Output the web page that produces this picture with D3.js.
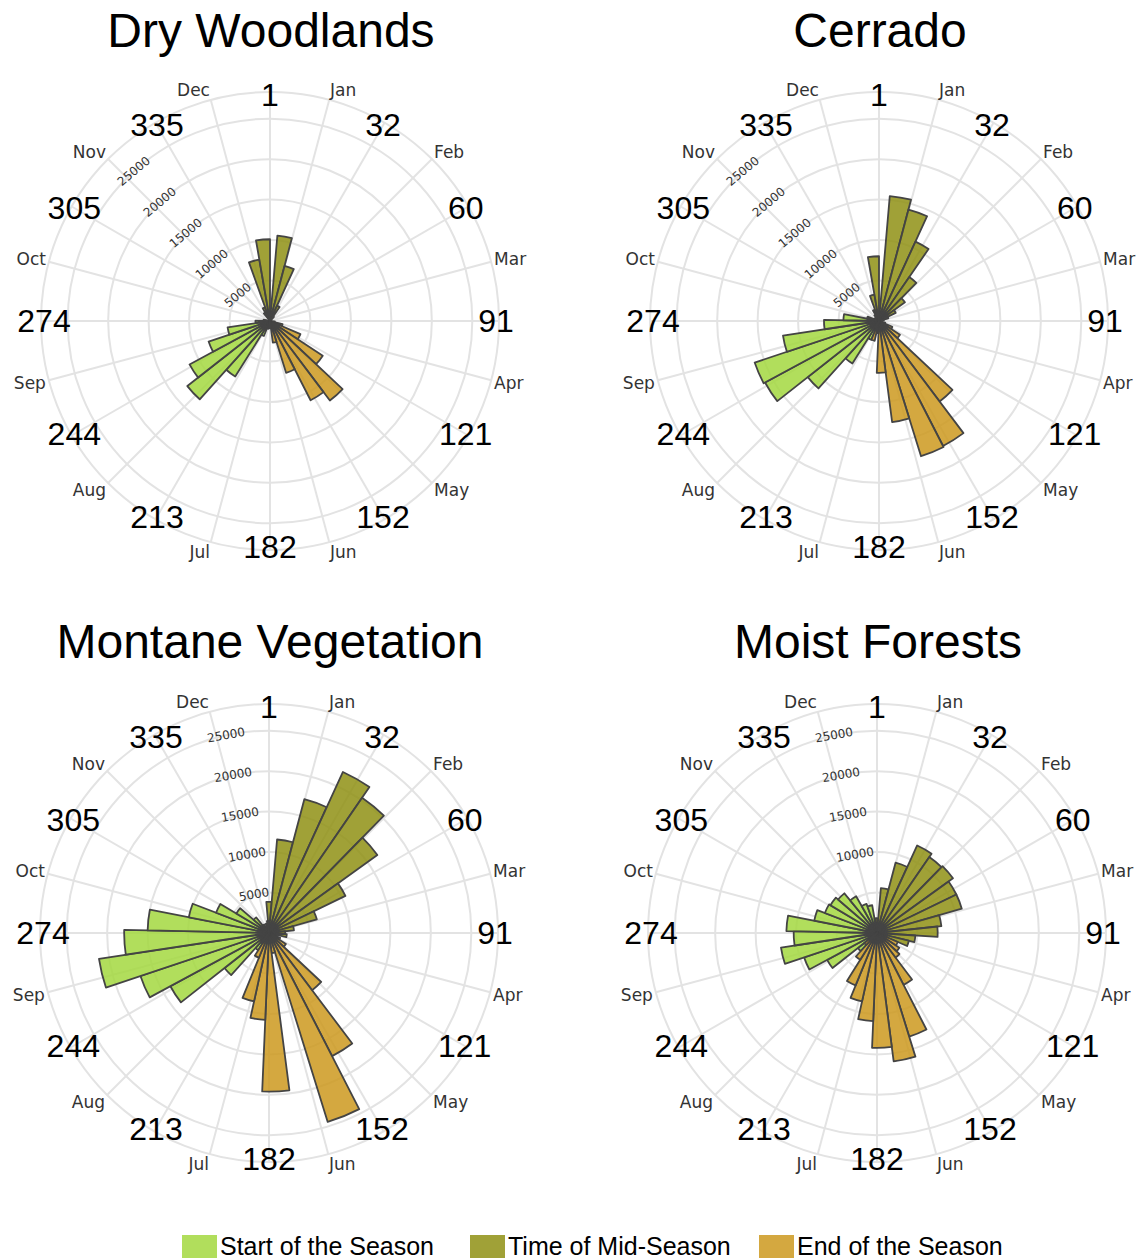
<!DOCTYPE html>
<html>
<head>
<meta charset="utf-8">
<script src="https://cdn.jsdelivr.net/npm/d3@7"></script>
<style>
body { margin: 0; background: #fff; }
</style>
</head>
<body>
<script>
// 10-day bins, centre day of each bin
var binDays = [0, 10, 20, 30, 40, 50, 60, 70, 80, 90, 100, 110, 120, 130, 140, 150, 160, 170, 180, 190,
               200, 210, 220, 230, 240, 250, 260, 270, 280, 290, 300, 310, 320, 330, 340, 350, 360];

var titles = ["Dry Woodlands", "Cerrado", "Montane Vegetation", "Moist Forests"];
var seriesNames = ["Start of the Season", "Time of Mid-Season", "End of the Season"];

var dryStart = [0,0,0,0,0,0,0,0,0,0, 0,0,0,0,0,0,0,0,0,0, 1000,2000,8100,13000,11300,8000,5300,1800,800,0, 0,0,0,0,0,0,0];
var dryMid   = [900,10600,7050,2100,700,0,0,0,0,0, 0,0,0,0,0,0,0,0,0,0, 0,0,0,0,0,0,0,0,0,0, 0,0,0,1200,1800,7700,10100];
var dryEnd   = [0,0,0,0,0,0,0,0,0,0, 600,1600,4100,7800,12300,11000,6700,2700,900,500, 0,0,0,0,0,0,0,0,0,0, 0,0,0,0,0,0,0];

var cerStart = [0,0,0,0,0,0,0,0,0,0, 0,0,0,0,0,0,0,0,0,0, 1200,2500,6200,11200,16000,16200,12000,6800,4400,1500, 600,0,0,0,0,0,0];
var cerMid   = [1200,15500,14250,10800,6600,3950,2300,1200,600,0, 0,0,0,0,0,0,0,0,0,0, 0,0,0,0,0,0,0,0,0,0, 0,0,600,900,1500,3300,8000];
var cerEnd   = [0,0,0,0,0,0,0,0,0,0, 0,800,1800,3100,12450,17350,17500,12600,6400,1500, 2500,900,0,0,0,0,0,0,0,0, 0,0,0,0,0,0,0];

var monStart = [0,0,0,0,0,0,0,0,0,0, 0,0,0,0,0,0,0,0,0,0, 0,1500,2500,7000,13850,16750,21250,17900,15000,10100, 7000,4700,2500,1200,0,0,0];
var monMid   = [3850,11600,17100,21900,20300,16500,10500,6150,3100,2000, 2200,1000,0,0,0,0,0,0,0,0, 0,0,0,0,0,0,0,0,0,0, 0,0,0,0,800,1200,1500];
var monEnd   = [0,0,0,0,0,0,0,0,0,0, 0,0,1500,2500,8850,17100,24450,2500,19600,10750, 8650,3300,1500,0,0,0,0,0,0,0, 0,0,0,0,0,0,0];

var moiStart = [0,0,0,0,0,0,0,0,0,0, 0,0,0,0,0,0,0,0,0,0, 0,0,1500,3000,7000,9500,12000,10300,11200,7900, 6900,6700,6350,5230,3830,3480,1800];
var moiMid   = [1800,5570,8980,11900,11400,11570,10900,10900,8000,7500, 4750,4050,1500,0,0,0,0,0,0,0, 0,0,0,0,0,0,0,0,0,0, 0,0,0,0,0,0,0];
var moiEnd   = [0,0,0,0,0,0,0,0,0,0, 0,0,2800,3300,3800,7200,13400,16000,14200,10900, 8650,7000,3900,2000,0,0,0,0,0,0, 0,0,0,0,0,0,0];

var panelSeries = [
    [dryStart, dryMid, dryEnd],
    [cerStart, cerMid, cerEnd],
    [monStart, monMid, monEnd],
    [moiStart, moiMid, moiEnd]
];

var dayTicks = ["1", "32", "60", "91", "121", "152", "182", "213", "244", "274", "305", "335"];
var months = ["Jan", "Feb", "Mar", "Apr", "May", "Jun", "Jul", "Aug", "Sep", "Oct", "Nov", "Dec"];
var radialTicks = [5000, 10000, 15000, 20000, 25000];
var shownTicks = [radialTicks, radialTicks, radialTicks, [10000, 15000, 20000, 25000]];

// layout
var w = 1139, h = 1260;
var centers = [[270, 321], [879, 321], [269, 933], [877, 933]];
var titleY = [47, 658];
var axisAngle = [320, 320, 350, 350];
var R = 229;
var colors = ["#a3d83f", "#8f9014", "#cc991e"];

var r = d3.scaleLinear().domain([0, 28300]).range([0, R]);
var theta = d3.scaleLinear().domain([0, 365]).range([0, 2 * Math.PI]);
var arc = d3.arc();
var rad = Math.PI / 180;

var svg = d3.select("body").append("svg")
    .attr("width", w)
    .attr("height", h)
    .style("background", "#fff");

centers.forEach(function (c, p) {
    var g = svg.append("g").attr("transform", "translate(" + c[0] + "," + c[1] + ")");

    // grid
    g.selectAll("circle.ring").data(radialTicks).enter().append("circle")
        .attr("class", "ring")
        .attr("r", function (d) { return r(d); })
        .attr("fill", "none").attr("stroke", "#e3e3e3").attr("stroke-width", 2);
    g.append("circle").attr("r", R)
        .attr("fill", "none").attr("stroke", "#e3e3e3").attr("stroke-width", 2);
    g.selectAll("line.spoke").data(d3.range(0, 360, 15)).enter().append("line")
        .attr("class", "spoke")
        .attr("x1", 0).attr("y1", 0)
        .attr("x2", function (a) { return R * Math.sin(a * rad); })
        .attr("y2", function (a) { return -R * Math.cos(a * rad); })
        .attr("stroke", "#e3e3e3").attr("stroke-width", 2);

    // radial tick labels, tangential, beside the radial axis
    var A = axisAngle[p] * rad;
    g.selectAll("text.rtick").data(shownTicks[p]).enter().append("text")
        .attr("class", "rtick")
        .attr("transform", function (d) {
            var x = r(d) * Math.sin(A) - 8 * Math.cos(A);
            var y = -r(d) * Math.cos(A) - 8 * Math.sin(A);
            return "translate(" + x + "," + y + ") rotate(" + (axisAngle[p] - 360) + ")";
        })
        .attr("text-anchor", "middle")
        .attr("dominant-baseline", "central")
        .style("font-family", "DejaVu Sans, Verdana, sans-serif")
        .style("font-size", "12px")
        .style("fill", "#333")
        .text(function (d) { return d; });

    // bars
    panelSeries[p].forEach(function (values, s) {
        g.selectAll("path.s" + s).data(binDays.filter(function (d, i) { return values[i] > 0; }))
            .enter().append("path")
            .attr("class", "s" + s)
            .attr("d", function (d) {
                return arc({
                    innerRadius: 0,
                    outerRadius: r(values[binDays.indexOf(d)]),
                    startAngle: theta(d - 5),
                    endAngle: theta(d + 5)
                });
            })
            .attr("fill", colors[s])
            .attr("fill-opacity", 0.85)
            .attr("stroke", "#444")
            .attr("stroke-width", 1.8)
            .attr("stroke-linejoin", "round");
    });

    // day-of-year labels
    g.selectAll("text.day").data(dayTicks).enter().append("text")
        .attr("class", "day")
        .attr("x", function (d, i) { return 226 * Math.sin(i * 30 * rad); })
        .attr("y", function (d, i) { return -226 * Math.cos(i * 30 * rad); })
        .attr("text-anchor", "middle")
        .attr("dominant-baseline", "central")
        .style("font-family", "Liberation Sans, Arial, sans-serif")
        .style("font-size", "32px")
        .style("fill", "#000")
        .text(function (d) { return d; });

    // month labels
    g.selectAll("text.month").data(months).enter().append("text")
        .attr("class", "month")
        .attr("x", function (d, i) { return 232 * Math.sin((15 + i * 30) * rad); })
        .attr("y", function (d, i) {
            var a = (15 + i * 30) * rad;
            return -232 * Math.cos(a) - 7 * Math.cos(a);
        })
        .attr("text-anchor", function (d, i) { return Math.sin((15 + i * 30) * rad) > 0 ? "start" : "end"; })
        .attr("dominant-baseline", "central")
        .style("font-family", "DejaVu Sans, Verdana, sans-serif")
        .style("font-size", "17px")
        .style("fill", "#333")
        .text(function (d) { return d; });

    svg.append("text")
        .attr("x", c[0] + 1)
        .attr("y", titleY[Math.floor(p / 2)])
        .attr("text-anchor", "middle")
        .style("font-family", "Liberation Sans, Arial, sans-serif")
        .style("font-size", "48px")
        .style("fill", "#000")
        .text(titles[p]);
});

// legend
var legendX = [182, 470, 759];
var legend = svg.selectAll("g.legend").data(seriesNames).enter().append("g")
    .attr("class", "legend")
    .attr("transform", function (d, i) { return "translate(" + legendX[i] + ",1235)"; });
legend.append("rect")
    .attr("width", 35).attr("height", 23)
    .attr("fill", function (d, i) { return colors[i]; })
    .attr("fill-opacity", 0.85);
legend.append("text")
    .attr("x", 38).attr("y", 19.5)
    .style("font-family", "Liberation Sans, Arial, sans-serif")
    .style("font-size", "25px")
    .style("fill", "#000")
    .text(function (d) { return d; });
</script>
</body>
</html>
